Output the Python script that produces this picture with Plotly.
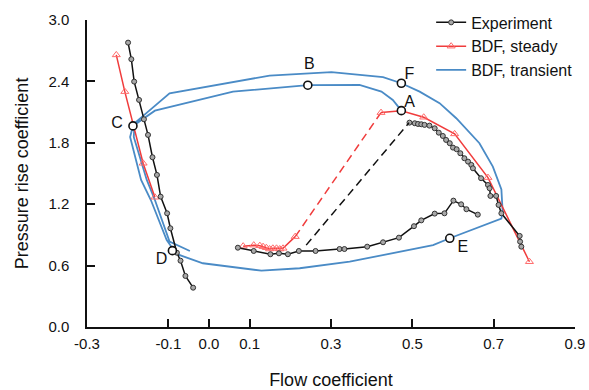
import plotly.graph_objects as go

# ---------------- data ----------------
# Experiment: negative-flow branch
exp_left_x = [-0.199, -0.191, -0.184, -0.172, -0.160, -0.150, -0.139, -0.128, -0.119,
              -0.103, -0.095, -0.079, -0.070, -0.058, -0.039]
exp_left_y = [2.779, 2.617, 2.398, 2.219, 2.030, 1.877, 1.659, 1.486, 1.274,
              1.111, 0.965, 0.726, 0.648, 0.499, 0.384]
# Experiment: low-pressure branch
exp_low_x = [0.071, 0.110, 0.151, 0.172, 0.194, 0.221, 0.262, 0.321, 0.333, 0.389,
             0.428, 0.467, 0.504, 0.522, 0.555, 0.579, 0.601, 0.620, 0.633, 0.661]
exp_low_y = [0.775, 0.743, 0.711, 0.720, 0.711, 0.743, 0.743, 0.762, 0.762, 0.785,
             0.828, 0.873, 0.985, 1.042, 1.108, 1.111, 1.235, 1.199, 1.151, 1.098]
# Experiment: stable branch
exp_up_x = [0.493, 0.506, 0.514, 0.522, 0.530, 0.542, 0.555, 0.565, 0.575, 0.583,
            0.592, 0.600, 0.609, 0.618, 0.628, 0.637, 0.645, 0.649, 0.669, 0.686,
            0.690, 0.692, 0.706, 0.712, 0.719, 0.764, 0.765, 0.768]
exp_up_y = [1.997, 1.991, 1.984, 1.981, 1.975, 1.968, 1.942, 1.899, 1.867, 1.828,
            1.796, 1.753, 1.737, 1.698, 1.649, 1.616, 1.584, 1.551, 1.454, 1.388,
            1.356, 1.281, 1.281, 1.193, 1.111, 0.890, 0.834, 0.785]
# Experiment: jump (dashed)
exp_jump_x = [0.239, 0.492]
exp_jump_y = [0.800, 1.997]

# BDF steady: negative-flow branch
st_left_x = [-0.228, -0.207, -0.162, -0.133]
st_left_y = [2.659, 2.300, 1.600, 1.268]
# BDF steady: low-pressure cluster
st_low_x = [0.084, 0.110, 0.125, 0.133, 0.141, 0.149, 0.157, 0.166, 0.174, 0.182, 0.212]
st_low_y = [0.790, 0.800, 0.795, 0.785, 0.775, 0.762, 0.769, 0.769, 0.762, 0.769, 0.883]
# BDF steady: jump (dashed)
st_jump_x = [0.212, 0.423]
st_jump_y = [0.883, 2.095]
# BDF steady: stable branch
st_up_x = [0.423, 0.473, 0.528, 0.604, 0.686, 0.788]
st_up_y = [2.095, 2.114, 2.050, 1.887, 1.460, 0.638]
st_up_marked = [True, False, True, True, True, True]

# BDF transient: surge cycle trajectory
tr_x = [0.473, 0.452, 0.424, 0.370, 0.243, 0.059, -0.133, -0.187,
        -0.194, -0.167, -0.143, -0.104, -0.080, -0.015, 0.129, 0.223, 0.346, 0.469,
        0.551, 0.592, 0.719, 0.722, 0.719, 0.698, 0.665, 0.608, 0.567, 0.518, 0.473,
        0.428, 0.301, 0.149, -0.097, -0.162, -0.183,
        -0.185, -0.153, -0.133, -0.097, -0.047]
tr_y = [2.114, 2.219, 2.300, 2.366, 2.363, 2.300, 2.114, 1.965,
        1.857, 1.437, 1.241, 0.850, 0.714, 0.623, 0.550, 0.574, 0.638, 0.736,
        0.800, 0.867, 1.060, 1.130, 1.345, 1.567, 1.796, 2.040, 2.187, 2.300, 2.382,
        2.441, 2.490, 2.457, 2.284, 2.063, 1.991,
        1.857, 1.437, 1.241, 0.834, 0.743]

# Labelled states
pt_names = ["A", "B", "C", "D", "E", "F"]
pt_x = [0.473, 0.243, -0.187, -0.090, 0.592, 0.473]
pt_y = [2.114, 2.363, 1.965, 0.746, 0.867, 2.382]
lab_x = [0.493, 0.247, -0.226, -0.117, 0.624, 0.493]
lab_y = [2.190, 2.561, 1.981, 0.655, 0.769, 2.463]

x_ticks = [-0.3, -0.1, 0.0, 0.1, 0.3, 0.5, 0.7, 0.9]
x_tick_text = ["-0.3", "-0.1", "0.0", "0.1", "0.3", "0.5", "0.7", "0.9"]
y_ticks = [0.0, 0.6, 1.2, 1.8, 2.4, 3.0]
y_tick_text = ["0.0", "0.6", "1.2", "1.8", "2.4", "3.0"]

# ---------------- styles ----------------
BLACK = "#111111"
RED = "#f03c3c"
BLUE = "#4a8bc6"
FONT = "Liberation Sans, Arial, sans-serif"

exp_marker = dict(symbol="circle", size=5, color="#a8a8a8",
                  line=dict(color="#333333", width=1))
st_marker = dict(symbol="triangle-up-open", size=7, color="#ff6a6a",
                 line=dict(width=1))

fig = go.Figure()

# BDF transient
fig.add_trace(go.Scatter(x=tr_x, y=tr_y, mode="lines", name="BDF, transient",
                         line=dict(color=BLUE, width=1.8), legendrank=3))

# BDF steady
fig.add_trace(go.Scatter(x=st_left_x, y=st_left_y, mode="lines+markers",
                         name="BDF, steady", line=dict(color=RED, width=1.5),
                         marker=st_marker, legendrank=2))
fig.add_trace(go.Scatter(x=st_low_x, y=st_low_y, mode="lines+markers",
                         showlegend=False, line=dict(color=RED, width=1.5),
                         marker=st_marker))
fig.add_trace(go.Scatter(x=st_jump_x, y=st_jump_y, mode="lines", showlegend=False,
                         line=dict(color=RED, width=1.5, dash="8px,5px")))
fig.add_trace(go.Scatter(x=st_up_x, y=st_up_y, mode="lines+markers",
                         showlegend=False, line=dict(color=RED, width=1.5),
                         marker=dict(st_marker,
                                     opacity=[1 if m else 0 for m in st_up_marked])))

# Experiment
fig.add_trace(go.Scatter(x=exp_left_x, y=exp_left_y, mode="lines+markers",
                         name="Experiment", line=dict(color=BLACK, width=1.5),
                         marker=exp_marker, legendrank=1))
fig.add_trace(go.Scatter(x=exp_low_x, y=exp_low_y, mode="lines+markers",
                         showlegend=False, line=dict(color=BLACK, width=1.5),
                         marker=exp_marker))
fig.add_trace(go.Scatter(x=exp_up_x, y=exp_up_y, mode="lines+markers",
                         showlegend=False, line=dict(color=BLACK, width=1.5),
                         marker=exp_marker))
fig.add_trace(go.Scatter(x=exp_jump_x, y=exp_jump_y, mode="lines", showlegend=False,
                         line=dict(color=BLACK, width=1.5, dash="8px,5px")))

# Labelled state points
fig.add_trace(go.Scatter(x=pt_x, y=pt_y, mode="markers", showlegend=False,
                         marker=dict(symbol="circle", size=8, color="white",
                                     line=dict(color=BLACK, width=1.6))))
fig.add_trace(go.Scatter(x=lab_x, y=lab_y, mode="text", text=pt_names,
                         showlegend=False,
                         textfont=dict(family=FONT, size=16, color=BLACK)))

fig.update_layout(
    width=589, height=390,
    margin=dict(l=87, r=14, t=20, b=63, autoexpand=False),
    paper_bgcolor="white", plot_bgcolor="white",
    font=dict(family=FONT, size=15, color=BLACK),
    showlegend=True,
    legend=dict(xref="container", yref="container", x=0.732, y=0.986,
                xanchor="left", yanchor="top",
                bgcolor="rgba(0,0,0,0)", font=dict(size=16),
                tracegroupgap=0, itemwidth=30),
    xaxis=dict(range=[-0.3, 0.9], tickvals=x_ticks, ticktext=x_tick_text,
               automargin=False,
               showgrid=False, zeroline=False, showline=True, linecolor=BLACK,
               linewidth=1.5, ticks="inside", ticklen=8, tickwidth=1.5,
               tickcolor=BLACK, ticklabelstandoff=2,
               title=dict(text="Flow coefficient", font=dict(size=18), standoff=23)),
    yaxis=dict(range=[0, 3.0], tickvals=y_ticks, ticktext=y_tick_text,
               automargin=False,
               showgrid=False, zeroline=False, showline=True, linecolor=BLACK,
               linewidth=1.5, ticks="inside", ticklen=8, tickwidth=1.5,
               tickcolor=BLACK, ticklabelstandoff=13,
               title=dict(text="Pressure rise coefficient", font=dict(size=18))),
)

fig.write_html("out.html", config={"displayModeBar": False},
               post_script="document.body.style.margin='0';")
